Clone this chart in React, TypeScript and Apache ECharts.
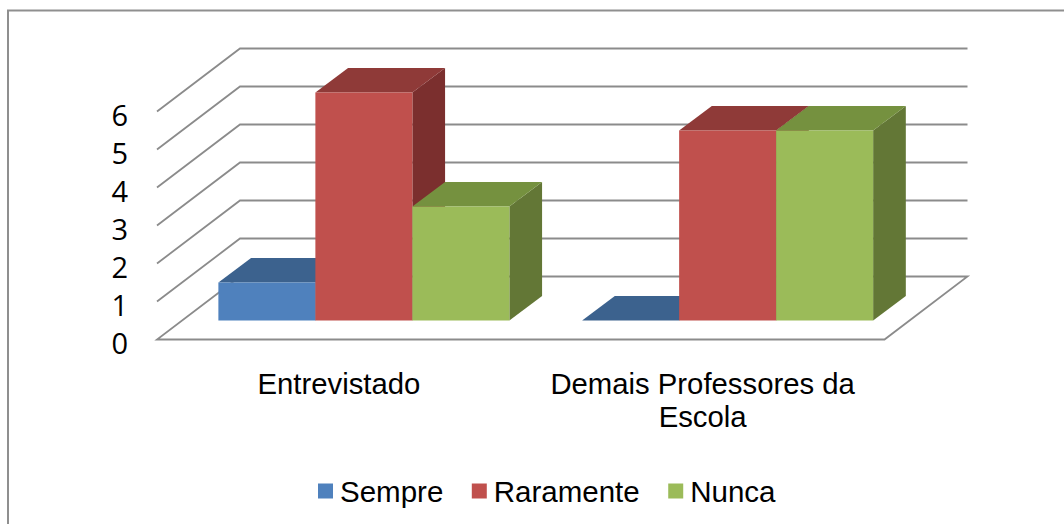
import React, { useEffect, useRef } from "react";
import * as echarts from "echarts";

const categories = ["Entrevistado", "Demais Professores da\nEscola"];
const tickValues = [0, 1, 2, 3, 4, 5, 6];
const sempre = [1, 0];
const raramente = [6, 5];
const nunca = [3, 5];

const FONT = "Liberation Sans";
const WALL = { dx: 83, dy: -63 };
const BAR_OFFSET = { dx: 25, dy: -19 };
const DEPTH = { dx: 32.7, dy: -24.5 };
const BAR_WIDTH = 97;
const LINE = "#8b8b8b";

const shades = [
  { name: "Sempre", front: "#4F81BD", top: "#3C628E", side: "#335680", values: sempre },
  { name: "Raramente", front: "#C0504D", top: "#8F3A38", side: "#7B2F2E", values: raramente },
  { name: "Nunca", front: "#9BBB59", top: "#75913F", side: "#637736", values: nunca },
];

function wallItem(params: any, api: any) {
  const v = api.value(1);
  const y = api.coord([0, v])[1];
  const left = params.coordSys.x;
  const right = left + params.coordSys.width;
  const style = { stroke: LINE, lineWidth: 1.8, fill: "none" };
  const pts =
    v === 0
      ? [
          [left + WALL.dx, y + WALL.dy],
          [right + WALL.dx, y + WALL.dy],
          [right, y],
          [left, y],
          [left + WALL.dx, y + WALL.dy],
        ]
      : [
          [left, y],
          [left + WALL.dx, y + WALL.dy],
          [right + WALL.dx, y + WALL.dy],
        ];
  return { type: "polyline", shape: { points: pts }, style };
}

function barRenderer(seriesIdx: number) {
  const s = shades[seriesIdx];
  return (_params: any, api: any) => {
    const top = api.coord([api.value(0), api.value(1)]);
    const base = api.coord([api.value(0), 0]);
    const x0 = top[0] + BAR_OFFSET.dx + (seriesIdx - 1.5) * BAR_WIDTH;
    const x1 = x0 + BAR_WIDTH;
    const yT = top[1] + BAR_OFFSET.dy;
    const yB = base[1] + BAR_OFFSET.dy;
    const { dx, dy } = DEPTH;
    return {
      type: "group",
      children: [
        {
          type: "polygon",
          shape: { points: [[x1, yT], [x1 + dx, yT + dy], [x1 + dx, yB + dy], [x1, yB]] },
          style: { fill: s.side },
        },
        {
          type: "polygon",
          shape: { points: [[x0, yT], [x0 + dx, yT + dy], [x1 + dx, yT + dy], [x1, yT]] },
          style: { fill: s.top },
        },
        {
          type: "rect",
          shape: { x: x0, y: yT, width: BAR_WIDTH, height: yB - yT },
          style: { fill: s.front },
        },
      ],
    };
  };
}

export default function App() {
  const ref = useRef<HTMLDivElement>(null);
  useEffect(() => {
    document.body.style.margin = "0";
    const chart = echarts.init(ref.current!, null, { renderer: "svg" });
    chart.setOption({
      animation: false,
      backgroundColor: "#ffffff",
      textStyle: { fontFamily: FONT },
      grid: { left: 157, right: 179.5, top: 111.5, bottom: 184.5, containLabel: false },
      xAxis: {
        type: "category",
        data: categories,
        axisLine: { show: false },
        axisTick: { show: false },
        splitLine: { show: false },
        axisLabel: {
          interval: 0,
          color: "#000",
          fontFamily: FONT,
          fontSize: 29.3,
          lineHeight: 32.5,
          margin: 28,
        },
      },
      yAxis: {
        type: "value",
        min: 0,
        max: 6,
        interval: 1,
        axisLine: { show: false },
        axisTick: { show: false },
        splitLine: { show: false },
        axisLabel: {
          color: "#000",
          fontFamily: "Open Sans",
          fontSize: 29,
          margin: 29,
          verticalAlign: "top",
          lineHeight: 6,
        },
      },
      legend: {
        data: shades.map((s) => s.name),
        left: 318,
        top: 476,
        padding: 0,
        itemWidth: 15,
        itemHeight: 15,
        itemGap: 28.5,
        icon: "rect",
        selectedMode: false,
        textStyle: { color: "#000", fontFamily: FONT, fontSize: 29.5, padding: [0, 0, 0, 2] },
      },
      graphic: [
        {
          type: "polyline",
          silent: true,
          z: 0,
          shape: { points: [[8, 524], [8, 10.5], [1064, 10.5]] },
          style: { stroke: "#8f8f8f", lineWidth: 2, fill: "none" },
        },
      ],
      series: [
        {
          type: "custom",
          name: "grid",
          silent: true,
          clip: false,
          renderItem: wallItem,
          encode: { x: 0, y: 1 },
          data: tickValues.map((v) => [0, v]),
          z: 1,
        },
        ...shades.map((s, i) => ({
          type: "custom",
          name: s.name,
          silent: true,
          clip: false,
          itemStyle: { color: s.front },
          renderItem: barRenderer(i),
          encode: { x: 0, y: 1 },
          data: s.values.map((v, c) => [c, v]),
          z: 2 + i,
        })),
      ],
    });
    return () => chart.dispose();
  }, []);
  return <div ref={ref} style={{ width: 1064, height: 524 }} />;
}
